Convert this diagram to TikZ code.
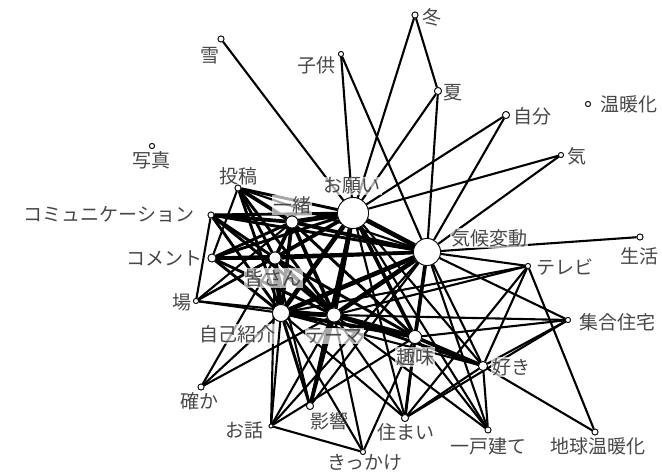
\documentclass[tikz,border=0pt]{standalone}
\usepackage{fontspec}
\newfontfamily\jp{Noto Sans CJK JP}
\begin{document}
\begin{tikzpicture}[x=1pt,y=-1pt,
  vtx/.style={circle,draw=black,fill=white,inner sep=0pt,minimum size=#1,line width=0.8pt},
  lbl/.style={font=\jp\fontsize{19}{19}\selectfont,text=black!72,inner sep=1pt},
  hl/.style={lbl,fill=white,fill opacity=0.66,text opacity=1},
  ea/.style={line width=2.1pt},
  eb/.style={line width=2.9pt},
  ec/.style={line width=3.7pt},
  ed/.style={line width=4.7pt}]
\useasboundingbox (0,0) rectangle (662,474);
% nodes (circles)
\node[vtx=31] (A) at (353,213) {};
\node[vtx=27] (K) at (427,252) {};
\node[vtx=12] (I) at (292,222) {};
\node[vtx=12] (M) at (275,258) {};
\node[vtx=17] (J) at (281,313) {};
\node[vtx=14] (T) at (334,315) {};
\node[vtx=13] (S) at (415,337) {};
\node[vtx=9] (Suki) at (483,366) {};
\node[vtx=6] (Yuki) at (221,39) {};
\node[vtx=6] (Fuyu) at (415,15) {};
\node[vtx=5] (Kodomo) at (341,54) {};
\node[vtx=7] (Natsu) at (438,91) {};
\node[vtx=7] (Jibun) at (506,115) {};
\node[vtx=5] (Ondanka) at (588,104) {};
\node[vtx=5] (Ki) at (561,155) {};
\node[vtx=5] (Shashin) at (152,146) {};
\node[vtx=6] (Toukou) at (238,188) {};
\node[vtx=6] (Comm) at (211,215) {};
\node[vtx=8] (Comment) at (212,258) {};
\node[vtx=5] (Ba) at (196,301) {};
\node[vtx=6] (Seikatsu) at (640,237) {};
\node[vtx=5] (TV) at (528,266) {};
\node[vtx=5] (Shugo) at (568,320) {};
\node[vtx=6] (Tashika) at (201,387) {};
\node[vtx=7] (Eikyo) at (310,406) {};
\node[vtx=4] (Ohanashi) at (271,426) {};
\node[vtx=7] (Sumai) at (405,418) {};
\node[vtx=5] (Kikkake) at (363,452) {};
\node[vtx=6] (Ikko) at (488,430) {};
\node[vtx=6] (Chikyu) at (595,432) {};
% edges
\draw[ea] (Yuki) -- (A);
\draw[ea] (Fuyu) -- (A); \draw[ea] (Fuyu) -- (Natsu);
\draw[ea] (Kodomo) -- (A); \draw[ea] (Kodomo) -- (K);
\draw[ea] (Natsu) -- (A); \draw[ea] (Natsu) -- (K);
\draw[ea] (Jibun) -- (A); \draw[ea] (Jibun) -- (K);
\draw[ea] (Ki) -- (A); \draw[ea] (Ki) -- (K);
\draw[ea] (Seikatsu) -- (K);
\draw[ea] (TV) -- (K); \draw[ea] (TV) -- (T); \draw[ea] (TV) -- (J);
\draw[ea] (TV) -- (Suki); \draw[ea] (TV) -- (Chikyu); \draw[ea] (TV) -- (Sumai);
\draw[ea] (Shugo) -- (K); \draw[ea] (Shugo) -- (S); \draw[ea] (Shugo) -- (Suki);
\draw[ea] (Shugo) -- (Sumai); \draw[ea] (Shugo) -- (T);
\draw[ea] (Chikyu) -- (Suki);
\draw[ea] (Ikko) -- (Suki); \draw[ea] (Ikko) -- (S); \draw[ea] (Ikko) -- (K);
\draw[ea] (Ikko) -- (T); \draw[ea] (Ikko) -- (A);
\draw[ec] (Suki) -- (S); \draw[ea] (Suki) -- (K); \draw[eb] (Suki) -- (T);
\draw[ea] (Suki) -- (Sumai); \draw[ea] (Suki) -- (A); \draw[ea] (Suki) -- (J);
\draw[eb] (Sumai) -- (S); \draw[ea] (Sumai) -- (K); \draw[ea] (Sumai) -- (T);
\draw[ea] (Sumai) -- (J); \draw[ea] (Sumai) -- (A);
\draw[ea] (Kikkake) -- (Ohanashi); \draw[ea] (Kikkake) -- (T);
\draw[ea] (Kikkake) -- (S); \draw[ea] (Kikkake) -- (J);
\draw[ea] (Ohanashi) -- (J); \draw[ea] (Ohanashi) -- (T); \draw[ea] (Ohanashi) -- (M);
\draw[ea] (Ohanashi) -- (S); \draw[ea] (Ohanashi) -- (K);
\draw[eb] (Eikyo) -- (J); \draw[ec] (Eikyo) -- (T); \draw[eb] (Eikyo) -- (A);
\draw[ea] (Eikyo) -- (K); \draw[ea] (Eikyo) -- (M);
\draw[ea] (Tashika) -- (J); \draw[ea] (Tashika) -- (M); \draw[ea] (Tashika) -- (T);
\draw[ea] (Ba) -- (M); \draw[ea] (Ba) -- (J); \draw[ea] (Ba) -- (T);
\draw[ea] (Ba) -- (A); \draw[ea] (Ba) -- (I);
\draw[ec] (Comment) -- (M); \draw[eb] (Comment) -- (I); \draw[eb] (Comment) -- (A);
\draw[eb] (Comment) -- (J); \draw[eb] (Comment) -- (T); \draw[eb] (Comment) -- (K);
\draw[ea] (Comment) -- (Toukou);
\draw[ec] (Comm) -- (I); \draw[eb] (Comm) -- (A); \draw[eb] (Comm) -- (M);
\draw[eb] (Comm) -- (J); \draw[eb] (Comm) -- (T); \draw[eb] (Comm) -- (K);
\draw[ea] (Comm) -- (Ba);
\draw[ec] (Toukou) -- (I); \draw[eb] (Toukou) -- (A); \draw[eb] (Toukou) -- (M);
\draw[eb] (Toukou) -- (J); \draw[eb] (Toukou) -- (T); \draw[ea] (Toukou) -- (K);
% central cluster
\draw[ed] (A) -- (I); \draw[ec] (A) -- (M); \draw[ed] (A) -- (J);
\draw[ed] (A) -- (T); \draw[ed] (A) -- (K); \draw[ec] (A) -- (S);
\draw[ec] (K) -- (I); \draw[ec] (K) -- (M); \draw[ed] (K) -- (J);
\draw[ed] (K) -- (T); \draw[ec] (K) -- (S);
\draw[ec] (I) -- (M); \draw[ec] (I) -- (J); \draw[ec] (I) -- (T); \draw[eb] (I) -- (S);
\draw[ed] (M) -- (J); \draw[ec] (M) -- (T); \draw[eb] (M) -- (S);
\draw[ed] (J) -- (T); \draw[ec] (J) -- (S);
\draw[ed] (T) -- (S);
% redraw circles above edges
\foreach \n/\s in {A/31,K/27,I/12,M/12,J/17,T/14,S/13,Suki/9,Yuki/6,Fuyu/6,Kodomo/5,Natsu/7,Jibun/7,Ondanka/5,Ki/5,Shashin/5,Toukou/6,Comm/6,Comment/8,Ba/5,Seikatsu/6,TV/5,Shugo/5,Tashika/6,Eikyo/7,Ohanashi/4,Sumai/7,Kikkake/5,Ikko/6,Chikyu/6}
  \node[vtx=\s] at (\n) {};
% labels
\node[hl] (lA) at (352,186) {お願い};
\node[hl] (lK) at (489,238) {気候変動};
\node[hl] (lI) at (292,205) {一緒};
\node[hl] (lM) at (273,278) {皆さん};
\node[hl] (lJ) at (237,334) {自己紹介};
\node[hl] (lT) at (334,336) {テーマ};
\node[hl] (lS) at (415,357) {趣味};
\node[hl] (lSuki) at (511,367) {好き};
\node[lbl] (lYuki) at (210,56) {雪};
\node[lbl] (lFuyu) at (432,17) {冬};
\node[lbl] (lKodomo) at (316,65) {子供};
\node[lbl] (lNatsu) at (453,93) {夏};
\node[lbl] (lJibun) at (532,116) {自分};
\node[lbl] (lOndanka) at (629,104) {温暖化};
\node[lbl] (lKi) at (577,156) {気};
\node[lbl] (lShashin) at (151,160) {写真};
\node[lbl] (lToukou) at (238,176) {投稿};
\node[lbl] (lComm) at (109,215) {コミュニケーション};
\node[lbl] (lComment) at (164,258) {コメント};
\node[lbl] (lBa) at (182,302) {場};
\node[lbl] (lSeikatsu) at (639,256) {生活};
\node[lbl] (lTV) at (565,267) {テレビ};
\node[lbl] (lShugo) at (617,322) {集合住宅};
\node[lbl] (lTashika) at (199,401) {確か};
\node[lbl] (lEikyo) at (329,421) {影響};
\node[lbl] (lOhanashi) at (244,430) {お話};
\node[lbl] (lSumai) at (406,432) {住まい};
\node[lbl] (lKikkake) at (365,462) {きっかけ};
\node[lbl] (lIkko) at (488,446) {一戸建て};
\node[lbl] (lChikyu) at (598,446) {地球温暖化};
\end{tikzpicture}
\end{document}
